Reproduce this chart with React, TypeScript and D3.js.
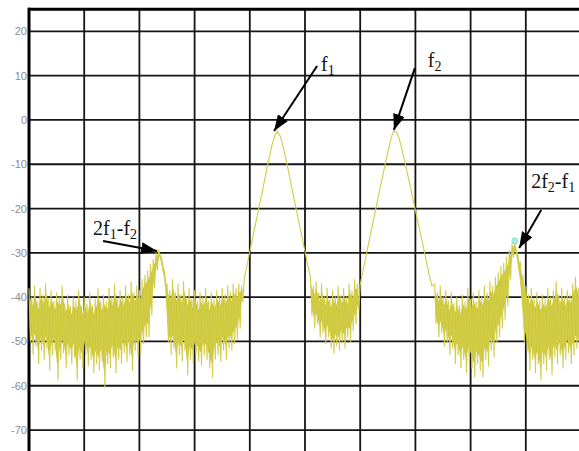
import React, { useEffect, useRef } from 'react';
import * as d3 from 'd3';

// spectrum trace, one bin every 0.5 x-units (10 units per division).
// each bin holds the top and bottom of the trace inside it (same value on the smooth tones)
const traceHigh = [
  -38, -40, -37.5, -41, -38, -39.5, -37, -40.5, -38.5, -41,
  -39, -40, -37.5, -41.5, -39.5, -42, -40, -41, -38.5, -42,
  -40, -41.5, -39, -42, -40.5, -38, -41, -39.5, -41, -38,
  -40, -37, -40.5, -38.5, -40, -37.5, -39.5, -36.5, -39, -37.5,
  -38.5, -36, -35, -34, -32.5, -31.5, -30, -29.3, -31, -34,
  -37, -38.5, -36, -39, -37, -39.5, -36.5, -40, -38, -40.5,
  -38.5, -41, -39, -40, -38, -41, -39, -40.5, -38.5, -40,
  -38, -39.5, -37.5, -39, -37, -38, -37, -37.5, -35.8, -32.8,
  -29.7, -26.7, -23.7, -20.7, -17.7, -14.7, -11.5, -8.5, -5.8, -3.6,
  -2.5, -3.6, -5.8, -8.5, -11.5, -14.7, -17.7, -20.7, -23.7, -26.7,
  -29.7, -32.8, -35.5, -37.5, -36.5, -39, -37, -40, -38, -40.5,
  -38.5, -40, -37.5, -39.5, -38, -40, -37, -38.5, -36, -37,
  -37.1, -34.1, -31.1, -28, -25, -22, -19, -16, -13.1, -10.1,
  -7.3, -4.6, -2.6, -2.6, -4, -6.3, -9, -11.8, -14.6, -17.5,
  -20.4, -23.2, -26.1, -29, -32, -35, -37.5, -37, -39, -37.5,
  -40, -38.5, -41, -39, -41.5, -40, -42, -39.5, -41, -38,
  -40.5, -39, -41, -38.5, -40, -37.5, -39, -36.5, -37.5, -35.5,
  -34.5, -33, -32.3, -31, -29.5, -28, -27.8, -30, -32, -35,
  -37.5, -39.5, -38, -40.5, -39, -41, -39.5, -40.5, -38, -40,
  -38.5, -36.5, -39.5, -38, -40, -38.5, -39.5, -37, -35.5, -38,
];

const traceLow = [
  -50, -53, -51, -55, -52, -54, -51.5, -56.5, -53, -52,
  -58.7, -54, -52.5, -56, -53, -55, -53.5, -58.7, -54, -56,
  -53, -55.5, -54, -57, -55, -56.5, -54.5, -60.3, -55, -56,
  -53.5, -57, -54, -55, -52.5, -54.5, -53, -56.5, -52, -53.5,
  -52.6, -50.5, -49, -49, -44, -38, -34, -31, -34, -38,
  -50, -53, -51.5, -56, -53, -54.5, -52, -57.5, -54, -55,
  -53, -54.5, -55.5, -53, -54, -56, -58, -54, -53, -54.5,
  -52, -54, -51.5, -52, -50.5, -49.5, -47, -41, -35.8, -32.8,
  -29.7, -26.7, -23.7, -20.7, -17.7, -14.7, -11.5, -8.5, -5.8, -3.6,
  -2.5, -3.6, -5.8, -8.5, -11.5, -14.7, -17.7, -20.7, -23.7, -26.7,
  -29.7, -32.8, -44, -47, -46, -49, -48, -50.5, -49, -51.5,
  -52.6, -51, -52, -50, -51.5, -49, -50, -47.5, -46, -43,
  -37.1, -34.1, -31.1, -28, -25, -22, -19, -16, -13.1, -10.1,
  -7.3, -4.6, -2.6, -2.6, -4, -6.3, -9, -11.8, -14.6, -17.5,
  -20.4, -23.2, -26.1, -29, -32, -35, -37.5, -46, -49, -48,
  -51, -50, -53, -51.5, -55, -53, -56, -54, -57, -54.5,
  -56, -58, -55, -56.5, -58, -54, -55.5, -52, -53.5, -50,
  -49, -47, -45, -42, -36, -31, -30, -34, -40, -50,
  -52, -56.5, -54, -57, -55, -58.7, -55, -56.5, -54, -57.5,
  -53.5, -55, -53, -56, -54, -52.5, -55, -53, -51.5, -53,
];

const BIN_STEP = 0.5;

const yTicks = [20, 10, 0, -10, -20, -30, -40, -50, -60, -70];
const xDivisions = [0, 10, 20, 30, 40, 50, 60, 70, 80, 90];

// marker sitting on the upper intermod product
const markerPoint = { x: 88.0, y: -27.3 };

// arrow tip in data units, tail and label as pixel offsets from the tip
const annotations = [
  { parts: [['f', false], ['1', true]], tip: [44.4, -2.5], tail: [43, -65], label: [47, -60] },
  { parts: [['f', false], ['2', true]], tip: [66.1, -2.3], tail: [21, -62], label: [34, -63] },
  { parts: [['2f', false], ['1', true], ['-f', false], ['2', true]], tip: [23.2, -29.6], tail: [-54, -10], label: [-64, -16] },
  { parts: [['2f', false], ['2', true], ['-f', false], ['1', true]], tip: [88.8, -28.9], tail: [22, -38], label: [12, -60] },
];

const W = 579;
const H = 451;

const App = () => {
  const svgRef = useRef(null);

  useEffect(() => {
    const svg = d3.select(svgRef.current);
    svg.selectAll('*').remove();

    const x = d3.scaleLinear().domain([0, 100]).range([29, 581]);
    const y = d3.scaleLinear().domain([-75, 25]).range([452.2, 9.2]);

    svg.append('rect').attr('width', W).attr('height', H).attr('fill', '#fff');

    // grid
    const grid = svg.append('g');
    grid.selectAll('line.h')
      .data(yTicks)
      .enter()
      .append('line')
      .attr('x1', x(0)).attr('x2', W)
      .attr('y1', d => y(d)).attr('y2', d => y(d))
      .attr('stroke', '#151515')
      .attr('stroke-width', 1.8);

    grid.selectAll('line.v')
      .data(xDivisions.slice(1))
      .enter()
      .append('line')
      .attr('x1', d => x(d)).attr('x2', d => x(d))
      .attr('y1', y(25)).attr('y2', H)
      .attr('stroke', '#151515')
      .attr('stroke-width', 1.8);

    // frame: top and left edge
    grid.append('line')
      .attr('x1', x(0) - 1).attr('x2', W)
      .attr('y1', y(25)).attr('y2', y(25))
      .attr('stroke', '#000').attr('stroke-width', 3);
    grid.append('line')
      .attr('x1', x(0)).attr('x2', x(0))
      .attr('y1', y(25) - 1.5).attr('y2', H)
      .attr('stroke', '#000').attr('stroke-width', 3);

    // dense body of the noise, a bit inside the extremes so the spikes stay thin
    const bins = traceHigh.map((hi, i) => ({ f: i * BIN_STEP, hi, lo: traceLow[i] }));

    svg.append('path')
      .datum(bins)
      .attr('fill', '#cac734')
      .attr('stroke', 'none')
      .attr('d', d3.area()
        .defined(d => d.hi - d.lo > 0)
        .x(d => x(d.f + BIN_STEP / 4))
        .y0(d => y(d.lo + Math.min(3, (d.hi - d.lo) * 0.25)))
        .y1(d => y(d.hi - Math.min(2, (d.hi - d.lo) * 0.2)))
      );

    // trace: zig-zag between top and bottom of each bin
    const pts = [];
    bins.forEach(b => {
      pts.push([b.f, b.hi]);
      if (b.lo !== b.hi) pts.push([b.f + BIN_STEP / 2, b.lo]);
    });

    svg.append('path')
      .datum(pts)
      .attr('fill', 'none')
      .attr('stroke', '#d2cc48')
      .attr('stroke-width', 1.1)
      .attr('stroke-linejoin', 'round')
      .attr('d', d3.line()
        .x(d => x(d[0]))
        .y(d => y(d[1]))
      );

    svg.append('circle')
      .attr('cx', x(markerPoint.x))
      .attr('cy', y(markerPoint.y))
      .attr('r', 3)
      .attr('fill', '#a8f0e4')
      .attr('stroke', '#6fd8c8')
      .attr('stroke-width', 0.8);

    // y labels
    svg.append('g')
      .selectAll('text')
      .data(yTicks)
      .enter()
      .append('text')
      .attr('x', 27)
      .attr('y', d => y(d))
      .attr('dy', '0.36em')
      .attr('text-anchor', 'end')
      .style('font-family', '"Liberation Sans", Arial, sans-serif')
      .style('font-size', '11px')
      .style('fill', '#8c8c8c')
      .text(d => d);

    // arrows
    svg.append('defs')
      .append('marker')
      .attr('id', 'arrowHead')
      .attr('viewBox', '0 0 16 12')
      .attr('refX', 16)
      .attr('refY', 6)
      .attr('markerWidth', 16)
      .attr('markerHeight', 12)
      .attr('markerUnits', 'userSpaceOnUse')
      .attr('orient', 'auto')
      .append('path')
      .attr('d', 'M0,0 L16,6 L0,12 Z')
      .attr('fill', '#000');

    annotations.forEach(a => {
      const tx = x(a.tip[0]);
      const ty = y(a.tip[1]);

      svg.append('line')
        .attr('x1', tx + a.tail[0]).attr('y1', ty + a.tail[1])
        .attr('x2', tx).attr('y2', ty)
        .attr('stroke', '#000')
        .attr('stroke-width', 2)
        .attr('marker-end', 'url(#arrowHead)');

      const t = svg.append('text')
        .attr('x', tx + a.label[0])
        .attr('y', ty + a.label[1])
        .style('font-family', '"Liberation Serif", "Times New Roman", serif')
        .style('font-size', '20px')
        .style('fill', '#111');

      let shifted = false;
      a.parts.forEach(([s, sub]) => {
        let dy = 0;
        if (sub && !shifted) { dy = 4; shifted = true; }
        if (!sub && shifted) { dy = -4; shifted = false; }
        t.append('tspan')
          .attr('dy', dy)
          .style('font-size', sub ? '14px' : '20px')
          .text(s);
      });
    });
  }, []);

  return (
    <div style={{ position: 'absolute', left: 0, top: 0, width: W, height: H, overflow: 'hidden' }}>
      <svg ref={svgRef} width={W} height={H}></svg>
    </div>
  );
};

export default App;
